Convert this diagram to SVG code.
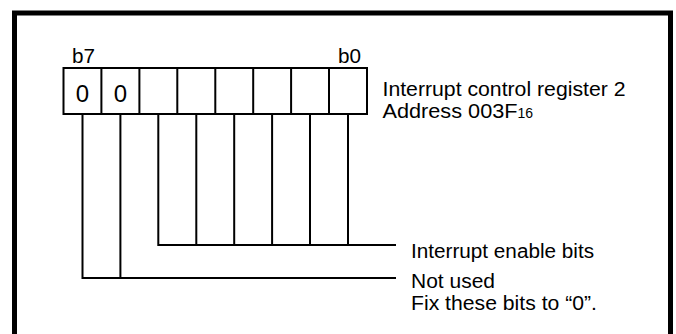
<svg xmlns="http://www.w3.org/2000/svg" width="676" height="334" viewBox="0 0 676 334">
<style>
.t{font-family:"Liberation Sans",Arial,sans-serif;fill:#000;font-size:20px}
.big{font-size:24px}
.sub{font-size:14px}
.ln{stroke:#000;stroke-width:2;fill:none}
</style>
<rect width="676" height="334" fill="#fff"/>
<path d="M14.5,336 V13 H670.5 V336" fill="none" stroke="#000" stroke-width="5"/>
<g id="register">
<rect x="63.5" y="68" width="303.5" height="46" class="ln"/>
<path class="ln" d="M101.4,68V114M139.4,68V114M177.3,68V114M215.3,68V114M253.2,68V114M291.1,68V114M329,68V114"/>
<text class="t big" x="82.5" y="102" text-anchor="middle">0</text>
<text class="t big" x="120.4" y="102" text-anchor="middle">0</text>
<text class="t" x="72" y="63" textLength="23" lengthAdjust="spacingAndGlyphs">b7</text>
<text class="t" x="338" y="63" textLength="23" lengthAdjust="spacingAndGlyphs">b0</text>
</g>
<g id="register-label">
<text class="t" x="382.5" y="96" textLength="243" lengthAdjust="spacingAndGlyphs">Interrupt control register 2</text>
<text class="t" x="382.5" y="118"><tspan textLength="135" lengthAdjust="spacingAndGlyphs">Address 003F</tspan><tspan class="sub">16</tspan></text>
</g>
<g id="connectors">
<path class="ln" d="M158.3,114V245M196.3,114V245M234.2,114V245M272.1,114V245M310,114V245M348,114V245M157.3,245H396"/>
<path class="ln" d="M82.5,114V278M120.4,114V278M81.5,278H396"/>
</g>
<g id="enable-label">
<text class="t" x="411" y="258" textLength="183" lengthAdjust="spacingAndGlyphs">Interrupt enable bits</text>
</g>
<g id="notused-label">
<text class="t" x="411" y="288" textLength="84" lengthAdjust="spacingAndGlyphs">Not used</text>
<text class="t" x="411" y="310" textLength="186" lengthAdjust="spacingAndGlyphs">Fix these bits to “0”.</text>
</g>
</svg>
